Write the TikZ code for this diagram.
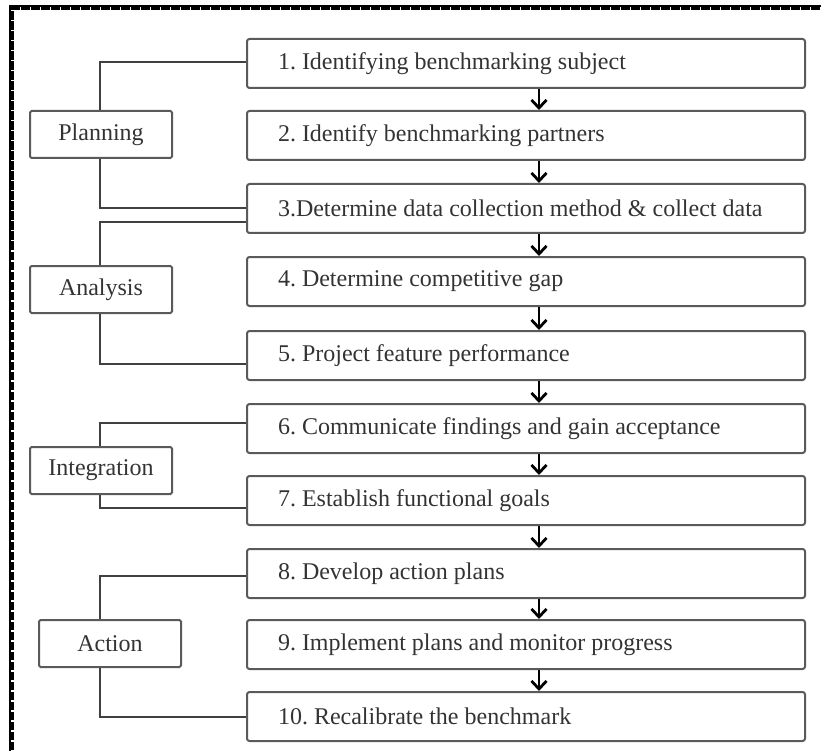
\documentclass[tikz,border=0pt]{standalone}
\usepackage{fontspec}
\setmainfont{Liberation Serif}
\usetikzlibrary{arrows.meta}
\definecolor{boxline}{HTML}{5A5A5A}
\definecolor{linkline}{HTML}{404040}
\definecolor{textgray}{HTML}{333333}
\newcommand{\steptext}[1]{\makebox[496pt][l]{#1}}
\begin{document}
\frenchspacing
\begin{tikzpicture}[x=1pt,y=-1pt,
  stepbox/.style={draw=boxline, line width=2pt, rounded corners=2.5pt,
    anchor=north west, minimum height=49pt, inner ysep=0pt,
    inner xsep=31pt, text=textgray,
    font=\fontsize{24}{28}\selectfont},
  phasebox/.style={draw=boxline, line width=2pt, rounded corners=1.5pt,
    anchor=north west, minimum width=142pt, minimum height=47pt,
    inner sep=0pt, text=textgray, font=\fontsize{24}{28}\selectfont},
  link/.style={draw=linkline, line width=2pt},
  flow/.style={draw=black, line width=2.8pt,
    -{Straight Barb[length=8pt,width=15pt,line width=2.8pt]}}]
\useasboundingbox (0,0) rectangle (821,751);
\clip (0,0) rectangle (821,751);
% frame: thick dotted border on the left and top
\draw[black, line width=2pt] (10,760) -- (10,6) -- (830,6);
\draw[black, line width=3pt, dash pattern=on 8.5pt off 1.5pt] (12.5,760) -- (12.5,8.5) -- (830,8.5);
% process steps
\node[stepbox] (b1) at (246,38)  {\steptext{1. Identifying benchmarking subject}};
\node[stepbox] (b2) at (246,110) {\steptext{2. Identify benchmarking partners}};
\node[stepbox] (b3) at (246,183) {\steptext{3.Determine data collection method \& collect data}};
\node[stepbox] (b4) at (246,256) {\steptext{4. Determine competitive gap}};
\node[stepbox] (b5) at (246,330) {\steptext{5. Project feature performance}};
\node[stepbox] (b6) at (246,403) {\steptext{6. Communicate findings and gain acceptance}};
\node[stepbox] (b7) at (246,475) {\steptext{7. Establish functional goals}};
\node[stepbox] (b8) at (246,548) {\steptext{8. Develop action plans}};
\node[stepbox] (b9) at (246,619) {\steptext{9. Implement plans and monitor progress}};
\node[stepbox] (b10) at (246,691) {\steptext{10. Recalibrate the benchmark}};
% phases
\node[phasebox] (plan) at (29,110) {Planning};
\node[phasebox] (anal) at (29,265) {Analysis};
\node[phasebox] (integ) at (29,446) {Integration};
\node[phasebox] (act) at (38,619) {Action};
\coordinate (spine) at (100,0);
\coordinate (axis) at (539,0);
% brackets joining each phase to its steps
\draw[link] (plan.north -| spine) |- ([yshift=1.5pt]b1.west);
\draw[link] (plan.south -| spine) |- (b3.west);
\draw[link] (anal.north -| spine) |- ([yshift=-14pt]b3.west);
\draw[link] (anal.south -| spine) |- ([yshift=-8pt]b5.west);
\draw[link] (integ.north -| spine) |- ([yshift=6pt]b6.west);
\draw[link] (integ.south -| spine) |- ([yshift=-7pt]b7.west);
\draw[link] (act.north -| spine) |- ([yshift=-2pt]b8.west);
\draw[link] (act.south -| spine) |- (b10.west);
% step sequence
\foreach \a/\b in {b1/b2,b2/b3,b3/b4,b4/b5,b5/b6,b6/b7,b7/b8,b8/b9,b9/b10}
  \draw[flow] (\a.south -| axis) -- (\b.north -| axis);
\end{tikzpicture}
\end{document}
